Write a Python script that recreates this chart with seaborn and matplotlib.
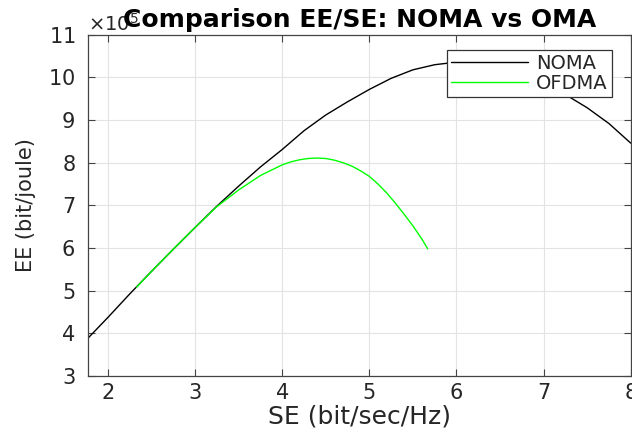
import numpy as np
import pandas as pd
import matplotlib
matplotlib.use('Agg')
import matplotlib.pyplot as plt
import seaborn as sns
from matplotlib.ticker import ScalarFormatter

# ===============================
# DATA (EE in units of 1e5 bit/joule)
# ===============================
noma_se = [1.77, 2.0, 2.25, 2.5, 2.75, 3.0, 3.25, 3.5, 3.75, 4.0, 4.25, 4.5, 4.75,
           5.0, 5.25, 5.5, 5.75, 6.0, 6.25, 6.5, 6.75, 7.0, 7.25, 7.5, 7.75, 8.0]
noma_ee = [3.88, 4.37, 4.92, 5.45, 5.97, 6.48, 6.98, 7.45, 7.90, 8.31, 8.75, 9.12, 9.43,
           9.72, 9.98, 10.18, 10.30, 10.36, 10.35, 10.26, 10.08, 9.86, 9.60, 9.29, 8.92, 8.46]

ofdma_se = [2.33, 2.5, 2.75, 3.0, 3.25, 3.5, 3.75, 4.0, 4.1, 4.2, 4.3, 4.4, 4.5, 4.6,
            4.7, 4.8, 4.9, 5.0, 5.1, 5.2, 5.3, 5.4, 5.5, 5.6, 5.67]
ofdma_ee = [5.08, 5.45, 5.97, 6.48, 6.97, 7.36, 7.70, 7.95, 8.02, 8.07, 8.10, 8.11, 8.10,
            8.06, 8.00, 7.92, 7.81, 7.68, 7.50, 7.29, 7.05, 6.79, 6.52, 6.22, 5.98]

scale = 1e5

df = pd.concat([
    pd.DataFrame({'SE': noma_se, 'EE': np.array(noma_ee) * scale, 'Scheme': 'NOMA'}),
    pd.DataFrame({'SE': ofdma_se, 'EE': np.array(ofdma_ee) * scale, 'Scheme': 'OFDMA'}),
])

# ===============================
# PLOT
# ===============================
sns.set_style('whitegrid')
plt.rcParams['font.family'] = ['DejaVu Sans']
txt = '#262626'

fig = plt.figure(figsize=(6.32, 4.36), dpi=100)
ax = fig.add_axes([0.139, 0.138, 0.859, 0.782])

sns.lineplot(data=df, x='SE', y='EE', hue='Scheme', sort=False,
             palette={'NOMA': 'black', 'OFDMA': '#00ff00'},
             linewidth=1.0, ax=ax)

ax.set_xlim(1.77, 8.0)
ax.set_ylim(3 * scale, 11 * scale)
ax.set_xticks([2, 3, 4, 5, 6, 7, 8])
ax.set_yticks(np.arange(3, 12) * scale)

# force the x10^5 multiplier like the original
fmt = ScalarFormatter(useMathText=True)
fmt.set_powerlimits((5, 5))
ax.yaxis.set_major_formatter(fmt)
off = ax.yaxis.get_offset_text()
off.set_fontsize(14)
off.set_color('#777777')

ax.grid(True, color='#e3e3e3', linewidth=0.8)
for s in ax.spines.values():
    s.set_color('#444444')
    s.set_linewidth(0.9)
    s.set_visible(True)

ax.tick_params(direction='in', length=5, width=0.8, colors='#444444',
               labelcolor=txt, labelsize=15, top=True, right=True,
               left=True, bottom=True)
ax.tick_params(axis='x', pad=5)
ax.tick_params(axis='y', pad=9)

ax.set_xlabel('SE (bit/sec/Hz)', fontsize=18, color=txt, labelpad=1)
ax.set_ylabel('EE (bit/joule)', fontsize=15, color=txt, labelpad=9)
# y=1.0 keeps the title low, overlapping the multiplier as in the original
ax.set_title('Comparison EE/SE: NOMA vs OMA', fontsize=18,
             fontweight='bold', color='black', pad=6, y=1.0)

leg = ax.legend(loc='upper right', bbox_to_anchor=(0.965, 0.956),
                borderaxespad=0, fontsize=14, frameon=True, fancybox=False,
                framealpha=1, edgecolor='#333333', handlelength=4.0,
                handletextpad=0.4, borderpad=0.2, labelspacing=0.05)
leg.get_frame().set_linewidth(0.9)
for t in leg.get_texts():
    t.set_color(txt)

plt.savefig('out.png', dpi=100)
plt.close()
